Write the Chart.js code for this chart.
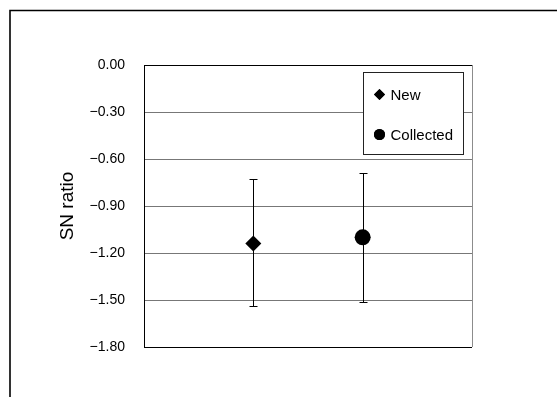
<!DOCTYPE html>
<html>
<head>
<meta charset="utf-8">
<script src="https://cdn.jsdelivr.net/npm/chart.js@4/dist/chart.umd.min.js"></script>
<style>
  html, body { margin: 0; padding: 0; background: #fff; }
  #c { display: block; }
</style>
</head>
<body>
<canvas id="c" width="557" height="397"></canvas>
<script>
// Groups and their SN ratio summary (mean with lower / upper bounds)
const categories = ['New', 'Collected'];
const means = [-1.14, -1.10];
const lowerBounds = [-1.54, -1.51];
const upperBounds = [-0.73, -0.69];
const markerStyles = ['rectRot', 'circle'];
const markerRadius = [8, 8];

// Y axis tick values
const yTicks = [0, -0.3, -0.6, -0.9, -1.2, -1.5, -1.8];

const FONT = "'Liberation Sans', Arial, sans-serif";

function fmtTick(v) {
  const s = Math.abs(v).toFixed(2);
  return (v < -1e-9 ? '\u2212' : '') + s;
}

const datasets = categories.map((name, i) => ({
  label: name,
  data: [{ x: i + 1, y: means[i] }],
  pointStyle: markerStyles[i],
  pointRadius: markerRadius[i],
  pointHoverRadius: markerRadius[i],
  backgroundColor: '#000',
  borderColor: '#000',
  borderWidth: 0,
  lo: lowerBounds[i],
  hi: upperBounds[i]
}));

// Outer frame of the chart
const framePlugin = {
  id: 'frame',
  beforeDraw(chart) {
    const ctx = chart.ctx;
    ctx.save();
    ctx.fillStyle = '#fff';
    ctx.fillRect(0, 0, chart.width, chart.height);
    ctx.strokeStyle = '#000';
    ctx.lineWidth = 1.6;
    ctx.beginPath();
    ctx.moveTo(10, chart.height + 5);
    ctx.lineTo(10, 10.5);
    ctx.lineTo(chart.width + 5, 10.5);
    ctx.stroke();
    ctx.restore();
  }
};

// Vertical error bars with caps, drawn beneath the markers
const errorBarPlugin = {
  id: 'errorBars',
  beforeDatasetsDraw(chart) {
    const ctx = chart.ctx;
    const xs = chart.scales.x, ys = chart.scales.y;
    ctx.save();
    ctx.strokeStyle = '#000';
    ctx.lineWidth = 1;
    chart.data.datasets.forEach(ds => {
      const pt = ds.data[0];
      const x = Math.round(xs.getPixelForValue(pt.x)) + 0.5;
      const yTop = Math.round(ys.getPixelForValue(ds.hi)) + 0.5;
      const yBot = Math.round(ys.getPixelForValue(ds.lo)) + 0.5;
      const cap = 4;
      ctx.beginPath();
      ctx.moveTo(x, yTop); ctx.lineTo(x, yBot);
      ctx.moveTo(x - cap, yTop); ctx.lineTo(x + cap, yTop);
      ctx.moveTo(x - cap, yBot); ctx.lineTo(x + cap, yBot);
      ctx.stroke();
    });
    ctx.restore();
  }
};

// Boxed legend in the upper right of the plot area
const legendBoxPlugin = {
  id: 'legendBox',
  afterDraw(chart) {
    const ctx = chart.ctx;
    const area = chart.chartArea;
    const boxW = 100, boxH = 82;
    const bx = area.right - 8.5 - boxW, by = area.top + 7.5;
    ctx.save();
    ctx.fillStyle = '#fff';
    ctx.fillRect(bx, by, boxW, boxH);
    ctx.strokeStyle = '#222';
    ctx.lineWidth = 1;
    ctx.strokeRect(bx, by, boxW, boxH);
    ctx.font = '15px ' + FONT;
    ctx.textBaseline = 'middle';
    ctx.textAlign = 'left';
    ctx.fillStyle = '#000';
    chart.data.datasets.forEach((ds, i) => {
      const cy = by + 22 + i * 40;
      const cx = bx + 16;
      Chart.helpers.drawPoint(ctx, { pointStyle: ds.pointStyle, radius: 5.5, rotation: 0, borderWidth: 0 }, cx, cy);
      ctx.fillStyle = '#000';
      ctx.fill();
      ctx.fillText(ds.label, bx + 27, cy + 1);
    });
    ctx.restore();
  }
};

new Chart(document.getElementById('c'), {
  type: 'scatter',
  data: { datasets },
  options: {
    responsive: false,
    devicePixelRatio: 1,
    animation: false,
    events: [],
    layout: { padding: { top: 65, bottom: 50, left: 0, right: 85 } },
    plugins: {
      legend: { display: false },
      tooltip: { enabled: false }
    },
    scales: {
      x: {
        type: 'linear',
        min: 0,
        max: categories.length + 1,
        ticks: { display: false, stepSize: categories.length + 1 },
        grid: {
          drawTicks: false,
          color: c => (c.tick && c.tick.value === categories.length + 1) ? '#8c8c8c' : 'rgba(0,0,0,0)'
        },
        border: { display: false }
      },
      y: {
        type: 'linear',
        min: yTicks[yTicks.length - 1],
        max: yTicks[0],
        afterBuildTicks: scale => { scale.ticks = yTicks.map(v => ({ value: v })); },
        afterFit: scale => { scale.width = 144; },
        ticks: {
          padding: 19,
          color: '#000',
          font: { family: FONT, size: 14 },
          callback: v => fmtTick(v)
        },
        grid: {
          drawTicks: false,
          lineWidth: 1,
          color: c => {
            const v = c.tick ? c.tick.value : 1;
            return (Math.abs(v) < 1e-9 || Math.abs(v - yTicks[yTicks.length - 1]) < 1e-9) ? '#000' : '#777';
          }
        },
        border: { display: true, color: '#000', width: 1 },
        title: {
          display: true,
          text: 'SN ratio',
          color: '#000',
          font: { family: FONT, size: 19 },
          padding: { top: 56, bottom: 0 }
        }
      }
    }
  },
  plugins: [framePlugin, errorBarPlugin, legendBoxPlugin]
});
</script>
</body>
</html>
